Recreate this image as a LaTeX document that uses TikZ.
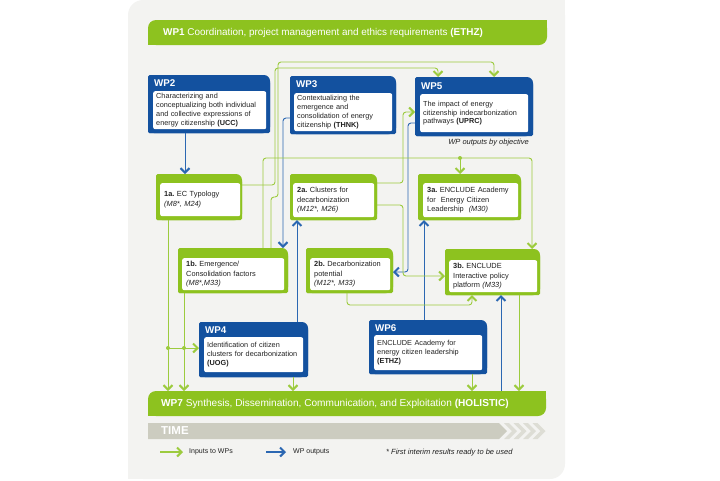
\documentclass[tikz,border=0pt]{standalone}
\usepackage{fontspec}
\setmainfont{Liberation Sans}
\usetikzlibrary{arrows.meta,positioning}
\frenchspacing

\definecolor{wpblue}{HTML}{13519F}
\definecolor{wpgreen}{HTML}{8DC21F}
\definecolor{lngreen}{HTML}{9CCB3E}
\definecolor{lnblue}{HTML}{2B67B2}
\definecolor{panelgrey}{HTML}{F3F3F1}
\definecolor{timegrey}{HTML}{CCCCC0}
\definecolor{chevgrey}{HTML}{DDDDD5}
\definecolor{txtdark}{HTML}{222222}

% box with a rounded top right corner
\newcommand{\tabfill}[2]{%
  \fill[#2, rounded corners=6pt] (#1.south west) rectangle (#1.north east);
  \fill[#2, rounded corners=1.5pt] (#1.south west) rectangle ([xshift=-6pt]#1.north east);
  \fill[#2, rounded corners=1.5pt] (#1.south west) rectangle ([yshift=-6pt]#1.north east);
}
% bar with rounded top left and bottom right corners
\newcommand{\leaffill}[3]{%
  \fill[#2, rounded corners=#3] (#1.south west) rectangle (#1.north east);
  \fill[#2] ([xshift=-#3]#1.north east) rectangle ([yshift=-#3]#1.north east);
  \fill[#2] (#1.south west) rectangle ([xshift=#3,yshift=#3]#1.south west);
}

\begin{document}
\begin{tikzpicture}[
x=1pt, y=-1pt,
boxframe/.style={inner sep=0pt, outer sep=0pt},
wptext/.style={
  fill=white,
  rounded corners=2pt,
  anchor=north west,
  inner xsep=3pt, inner ysep=0pt,
  align=left,
  text=txtdark,
  font=\fontsize{7.3}{8.8}\selectfont
  },
objtext/.style={wptext, inner xsep=4pt, font=\fontsize{7.4}{9.5}\selectfont},
wptitle/.style={anchor=west, inner sep=0pt, text=white, font=\fontsize{9.8}{10}\selectfont\bfseries},
bartext/.style={anchor=west, inner sep=0pt, text=white, font=\fontsize{9.9}{12}\selectfont},
note/.style={inner sep=0pt, text=txtdark, font=\fontsize{7}{9}\selectfont},
ln/.style={line width=0.9pt, rounded corners=3pt},
barbtip/.style={-{Straight Barb[length=4.5pt,width=9pt,line width=2pt]}},
inarrow/.style={ln, barbtip, draw=lngreen},
outarrow/.style={ln, barbtip, draw=lnblue}
]
\useasboundingbox (0,0) rectangle (720,480);

% background and bars
\node[boxframe, minimum width=437pt, minimum height=479pt] (panel) at (346.5,239.5) {};
\leaffill{panel}{panelgrey}{15pt}

\node[boxframe, minimum width=399pt, minimum height=25pt] (wp1) at (347.5,32.5) {};
\leaffill{wp1}{wpgreen}{8pt}
\node[bartext, right=15pt of wp1.west] (wp1h)
  {\textbf{WP1} Coordination, project management and ethics requirements \textbf{(ETHZ)}};

\node[boxframe, minimum width=398pt, minimum height=25pt] (wp7) at (347,403.5) {};
\leaffill{wp7}{wpgreen}{8pt}
\node[bartext, right=13pt of wp7.west, font=\fontsize{10.1}{12}\selectfont] (wp7h)
  {\textbf{WP7} Synthesis, Dissemination, Communication, and Exploitation \textbf{(HOLISTIC)}};

\fill[timegrey] (148,423) -- (499,423) -- (507,431) -- (499,439) -- (148,439) -- cycle;
\foreach \i in {0,...,3}
  \fill[chevgrey] (504+9.5*\i,423) -- ++(5,0) -- ++(8,8) -- ++(-8,8) -- ++(-5,0) -- ++(8,-8) -- cycle;
\node[bartext, font=\fontsize{11.5}{12}\selectfont\bfseries] (time) at (161,431) {TIME};

% work packages
\node[boxframe, minimum width=122pt, minimum height=58pt] (wp2) at (209,104) {};
\tabfill{wp2}{wpblue}
\node[wptitle] (wp2h) at ([xshift=6pt,yshift=-8.5pt]wp2.north west) {WP2};
\node[wptext, text width=107pt, minimum height=38pt] (wp2t) at (153,91)
  {Characterizing and\\conceptualizing both individual\\and collective expressions of\\energy citizenship \textbf{(UCC)}};

\node[boxframe, minimum width=106pt, minimum height=58pt] (wp3) at (343,105) {};
\tabfill{wp3}{wpblue}
\node[wptitle] (wp3h) at ([xshift=6pt,yshift=-8.5pt]wp3.north west) {WP3};
\node[wptext, text width=92pt, minimum height=38pt] (wp3t) at (294,93)
  {Contextualizing the\\emergence and\\consolidation of energy\\citizenship \textbf{(THNK)}};

\node[boxframe, minimum width=118pt, minimum height=59pt] (wp5) at (474,106.5) {};
\tabfill{wp5}{wpblue}
\node[wptitle] (wp5h) at ([xshift=6pt,yshift=-9pt]wp5.north west) {WP5};
\node[wptext, text width=102pt, minimum height=38pt] (wp5t) at (420,94)
  {The impact of energy\\citizenship indecarbonization\\pathways \textbf{(UPRC)}};

\node[boxframe, minimum width=109pt, minimum height=55pt] (wp4) at (253.5,349.5) {};
\tabfill{wp4}{wpblue}
\node[wptitle] (wp4h) at ([xshift=6pt,yshift=-8pt]wp4.north west) {WP4};
\node[wptext, text width=93pt, minimum height=35pt] (wp4t) at (204,337)
  {Identification of citizen\\clusters for decarbonization\\\textbf{(UOG)}};

\node[boxframe, minimum width=118pt, minimum height=54pt] (wp6) at (428,347) {};
\tabfill{wp6}{wpblue}
\node[wptitle] (wp6h) at ([xshift=6pt,yshift=-8pt]wp6.north west) {WP6};
\node[wptext, text width=102pt, minimum height=35pt] (wp6t) at (374,335)
  {ENCLUDE Academy for\\energy citizen leadership\\\textbf{(ETHZ)}};

% objectives
\node[boxframe, minimum width=86pt, minimum height=46pt] (o1a) at (199,197) {};
\tabfill{o1a}{wpgreen}
\node[objtext, text width=72pt, minimum height=33pt] (o1at) at (160,183)
  {\textbf{1a.} EC Typology\\\textit{(M8*, M24)}};

\node[boxframe, minimum width=87pt, minimum height=46pt] (o2a) at (333.5,197) {};
\tabfill{o2a}{wpgreen}
\node[objtext, text width=73pt, minimum height=34pt] (o2at) at (293,183)
  {\textbf{2a.} Clusters for\\decarbonization\\\textit{(M12*, M26)}};

\node[boxframe, minimum width=103pt, minimum height=46pt] (o3a) at (469.5,197) {};
\tabfill{o3a}{wpgreen}
\node[objtext, text width=87pt, minimum height=34pt] (o3at) at (423,183)
  {\textbf{3a.} ENCLUDE Academy\\for~ Energy Citizen\\Leadership~ \textit{(M30)}};

\node[boxframe, minimum width=110pt, minimum height=45pt] (o1b) at (233,270.5) {};
\tabfill{o1b}{wpgreen}
\node[objtext, text width=94pt, minimum height=32pt] (o1bt) at (182,258)
  {\textbf{1b.} Emergence/\\Consolidation factors\\\textit{(M8*,M33)}};

\node[boxframe, minimum width=87pt, minimum height=45pt] (o2b) at (349.5,270.5) {};
\tabfill{o2b}{wpgreen}
\node[objtext, text width=72pt, minimum height=32pt] (o2bt) at (310,258)
  {\textbf{2b.} Decarbonization\\potential\\\textit{(M12*, M33)}};

\node[boxframe, minimum width=95pt, minimum height=46pt] (o3b) at (492.5,272) {};
\tabfill{o3b}{wpgreen}
\node[objtext, text width=80pt, minimum height=32pt] (o3bt) at (449,260)
  {\textbf{3b.} ENCLUDE\\Interactive policy\\platform \textit{(M33)}};

\node[note, anchor=east, font=\fontsize{7.5}{9}\selectfont\itshape] (byobj) at (529,143) {WP outputs by objective};

% WP outputs
\draw[outarrow] (185,0 |- wp2.south) -- (185,0 |- o1a.north);
\draw[outarrow] (wp3.west |- 0,118) -| (283,0 |- o1b.north);
\draw[outarrow] (297,0 |- wp4.north) -- (297,0 |- o2a.south);
\draw[outarrow] (wp5.west |- 0,123) -| (408,272) -- (o2b.east |- 0,272);
\draw[outarrow] (424,0 |- wp6.north) -- (424,0 |- o3a.south);
\draw[outarrow] (501,0 |- wp7.north) -- (501,0 |- o3b.south);

% inputs to WPs
\coordinate (j3) at (460,158);
\coordinate (j1) at (168,348);
\coordinate (j2) at (184,348);
\draw[inarrow] (o1a.east |- 0,185) -| (275,68) -| (438,0 |- wp5.north);
\draw[inarrow] (271,0 |- o1b.north) |- (278,197) |- (494,62) -- (494,0 |- wp5.north);
\draw[inarrow] (263,0 |- o1b.north) |- (532,158) -- (532,0 |- o3b.north);
\draw[inarrow] (j3) -- (j3 |- o3a.north);
\draw[inarrow] (o2a.east |- 0,183) -| (403,112) -- (wp5.west |- 0,112);
\draw[inarrow] (o2a.east |- 0,205) -| (403,276) -- (o3b.west |- 0,276);
\draw[inarrow] (347,0 |- o2b.south) |- (472,305) -- (472,0 |- o3b.south);
\draw[inarrow] (519,0 |- o3b.south) -- (519,0 |- wp7.north);
\draw[inarrow] (168,0 |- o1a.south) -- (168,0 |- wp7.north);
\draw[inarrow] (184,0 |- o1b.south) -- (184,0 |- wp7.north);
\draw[inarrow] (j1) -- (wp4.west |- j1);
\draw[inarrow] (293,0 |- wp4.south) -- (293,0 |- wp7.north);
\draw[inarrow] (472,0 |- wp6.south) -- (472,0 |- wp7.north);
\fill[lngreen] (j1) circle (2pt) (j2) circle (2pt) (j3) circle (2pt);

% legend
\coordinate (lgins) at (160,452);
\node[note, anchor=west] (lgin) at (189,452) {Inputs to WPs};
\draw[inarrow, line width=2pt] (lgins) -- ([xshift=-6pt]lgin.west);
\coordinate (lgouts) at (266,452);
\node[note, anchor=west] (lgout) at (293,452) {WP outputs};
\draw[outarrow, line width=2pt] (lgouts) -- ([xshift=-7pt]lgout.west);
\node[note, anchor=west, font=\fontsize{7.5}{9}\selectfont\itshape] (fnote) at (386,453)
  {* First interim results ready to be used};
\end{tikzpicture}
\end{document}
